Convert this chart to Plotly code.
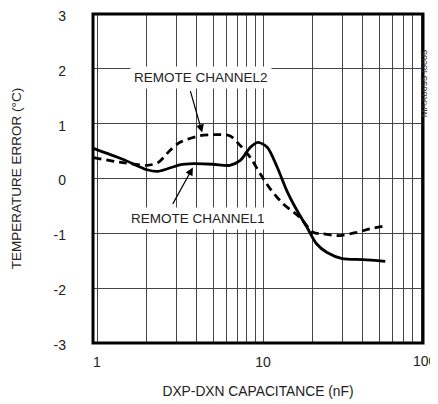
import math
import plotly.graph_objects as go

# ---- data ----
x_tick_vals = [1, 2, 3, 4, 5, 6, 7, 8, 9, 10, 20, 30, 40, 50, 60, 70, 80, 90]
x_tick_text = ["1", "", "", "", "", "", "", "", "", "10", "", "", "", "", "", "", "", ""]
x_end_label = "100"
y_tick_vals = [-3, -2, -1, 0, 1, 2, 3]
y_tick_text = ["-3", "-2", "-1", "0", "1", "2", "3"]

ch1_x = [0.95, 1.43, 2.0, 2.33, 3.16, 3.8, 5.0, 6.3, 7.3, 8.4, 9.3, 10.6, 12.2, 13.9, 16.0, 18.4, 21.0, 24.3, 30.0, 40.0, 54.5]
ch1_y = [0.55, 0.35, 0.16, 0.13, 0.25, 0.27, 0.26, 0.24, 0.33, 0.57, 0.66, 0.57, 0.20, -0.22, -0.58, -0.89, -1.19, -1.35, -1.46, -1.48, -1.51]

ch2_x = [0.95, 1.43, 2.0, 2.33, 2.75, 3.16, 4.17, 5.0, 6.3, 7.3, 8.4, 9.6, 11.0, 13.2, 16.7, 20.0, 23.0, 29.0, 37.0, 44.0, 53.0]
ch2_y = [0.38, 0.29, 0.24, 0.29, 0.51, 0.66, 0.78, 0.80, 0.78, 0.60, 0.38, 0.09, -0.18, -0.46, -0.71, -0.98, -1.01, -1.04, -0.98, -0.92, -0.87]

x_min, x_max = 0.946, 92.0
y_min, y_max = -3, 3

FONT = "Liberation Sans Narrow, Arial Narrow, Liberation Sans, Arial, sans-serif"

fig = go.Figure()
fig.add_trace(go.Scatter(x=ch1_x, y=ch1_y, mode="lines", name="REMOTE CHANNEL1",
                         line=dict(color="black", width=2.8, shape="spline", smoothing=0.8)))
fig.add_trace(go.Scatter(x=ch2_x, y=ch2_y, mode="lines", name="REMOTE CHANNEL2",
                         line=dict(color="black", width=2.8, dash="8px,5px", shape="spline", smoothing=0.8)))

r0, r1 = math.log10(x_min), math.log10(x_max)

def L(v):
    return math.log10(v)

annotations = [
    dict(x=L(4.24), y=1.84, xref="x", yref="y", text="REMOTE CHANNEL2", showarrow=False,
         bgcolor="white", borderpad=3, font=dict(size=13.5, color="#222", family=FONT)),
    dict(x=L(4.30), y=0.84, ax=L(3.63), ay=1.62, xref="x", yref="y", axref="x", ayref="y",
         text="", showarrow=True, arrowhead=2, arrowsize=1.3, arrowwidth=1.2, arrowcolor="black"),
    dict(x=L(4.06), y=-0.73, xref="x", yref="y", text="REMOTE CHANNEL1", showarrow=False,
         bgcolor="white", borderpad=3, font=dict(size=13.5, color="#222", family=FONT)),
    dict(x=L(3.78), y=0.20, ax=L(2.83), ay=-0.49, xref="x", yref="y", axref="x", ayref="y",
         text="", showarrow=True, arrowhead=2, arrowsize=1.3, arrowwidth=1.2, arrowcolor="black"),
    dict(x=(L(100) - r0) / (r1 - r0) - 0.012, y=0, xref="paper", yref="paper", yanchor="top", xanchor="center",
         yshift=-8, text=x_end_label, showarrow=False, font=dict(size=14, color="#222", family=FONT)),
    dict(x=1.024, y=0.90, xref="paper", yref="paper", text="MAX6695 toc05", textangle=-90,
         showarrow=False, font=dict(size=9.5, color="#333", family=FONT)),
]

# the page adds an 8px body margin, so the figure is sized/placed to compensate
fig.update_layout(
    width=430, height=396,
    margin=dict(l=85, r=15, t=6, b=61, autoexpand=False),
    plot_bgcolor="white", paper_bgcolor="white",
    showlegend=False,
    font=dict(family=FONT, color="#222", size=14),
    annotations=annotations,
    shapes=[dict(type="rect", xref="paper", yref="paper", x0=0, y0=0, x1=1, y1=1,
                 line=dict(color="black", width=3), layer="above")],
)
fig.update_xaxes(type="log", range=[r0, r1], tickvals=x_tick_vals, ticktext=x_tick_text,
                 showgrid=True, gridcolor="#444", gridwidth=1, zeroline=False, showline=False,
                 ticks="", ticklabelstandoff=9, tickfont=dict(size=14), automargin=False,
                 ticklabeloverflow="allow",
                 title=dict(text="DXP-DXN CAPACITANCE (nF)", font=dict(size=13.8), standoff=17))
fig.update_yaxes(range=[y_min, y_max], tickvals=y_tick_vals, ticktext=y_tick_text,
                 showgrid=True, gridcolor="#444", gridwidth=1, zeroline=False, showline=False,
                 ticks="", ticklabelstandoff=26, ticklabelshift=2, tickfont=dict(size=14),
                 automargin=False, ticklabeloverflow="allow",
                 title=dict(text="TEMPERATURE ERROR (°C)", font=dict(size=13.5), standoff=28))

fig.write_html("out.html")
